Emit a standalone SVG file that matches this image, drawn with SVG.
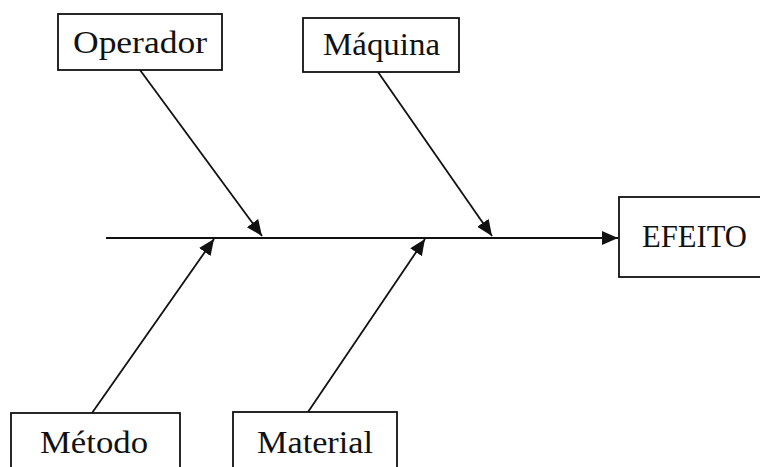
<svg xmlns="http://www.w3.org/2000/svg" width="760" height="467" viewBox="0 0 760 467">
<style>
.box{fill:#fff;stroke:#111;stroke-width:1.8}
.lbl{font-family:"Liberation Serif","DejaVu Serif",serif;font-size:32px;fill:#111}
.ln{stroke:#111;stroke-width:1.8;fill:none}
</style>
<defs>
<marker id="ah" markerUnits="userSpaceOnUse" markerWidth="18" markerHeight="16" refX="16" refY="7" orient="auto">
<path d="M0,0 L16,7 L0,14 z" fill="#111"/>
</marker>
</defs>
<rect width="760" height="467" fill="#fff"/>
<g id="connectors">
<line class="ln" x1="106" y1="238" x2="618" y2="238" marker-end="url(#ah)"/>
<line class="ln" x1="140" y1="70" x2="262" y2="236" marker-end="url(#ah)"/>
<line class="ln" x1="378" y1="72" x2="492" y2="236" marker-end="url(#ah)"/>
<line class="ln" x1="92" y1="413" x2="214" y2="239" marker-end="url(#ah)"/>
<line class="ln" x1="308" y1="412" x2="425" y2="239" marker-end="url(#ah)"/>
</g>
<g id="operador">
<rect class="box" x="58" y="14" width="164" height="56"/>
<text class="lbl" x="73" y="53" textLength="134" lengthAdjust="spacingAndGlyphs">Operador</text>
</g>
<g id="maquina">
<rect class="box" x="303" y="18" width="156" height="54"/>
<text class="lbl" x="323" y="55" textLength="117" lengthAdjust="spacingAndGlyphs">Máquina</text>
</g>
<g id="efeito">
<rect class="box" x="619" y="197" width="160" height="80"/>
<text class="lbl" x="642" y="247" textLength="105" lengthAdjust="spacingAndGlyphs">EFEITO</text>
</g>
<g id="metodo">
<rect class="box" x="11" y="413" width="169" height="70"/>
<text class="lbl" x="40" y="453" textLength="108" lengthAdjust="spacingAndGlyphs">Método</text>
</g>
<g id="material">
<rect class="box" x="233" y="412" width="164" height="70"/>
<text class="lbl" x="257" y="453" textLength="116" lengthAdjust="spacingAndGlyphs">Material</text>
</g>
</svg>
